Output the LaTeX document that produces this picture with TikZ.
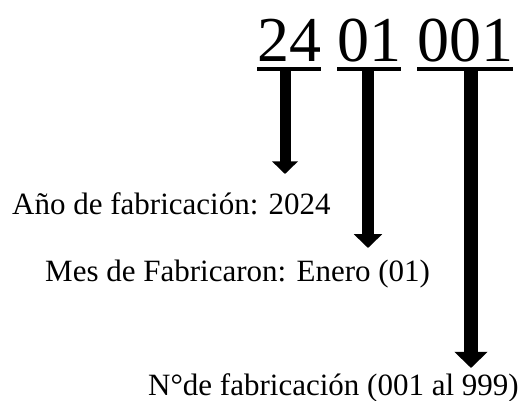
\documentclass[tikz,border=0pt]{standalone}
\usepackage{fontspec}
\setmainfont{Liberation Serif}
\usetikzlibrary{arrows.meta}
\begin{document}
\begin{tikzpicture}[x=1pt,y=-1pt,
  big/.style={inner sep=0pt,anchor=base west,font=\fontsize{64}{64}\selectfont},
  lbl/.style={inner sep=0pt,anchor=base west,font=\fontsize{31}{33}\selectfont},
  uline/.style={line width=4pt},
  bigarrow/.style={line width=#1, -{Triangle[width=2.3*#1,length=1.15*#1]}}
]
\useasboundingbox (0,0) rectangle (532,401);
\node[big] (a) at (257,62) {24};
\node[big] (b) at (337,62) {01};
\node[big] (c) at (417,62) {001};
\draw[uline] ([yshift=-7pt]a.base west) -- ([yshift=-7pt]a.base east);
\draw[uline] ([yshift=-7pt]b.base west) -- ([yshift=-7pt]b.base east);
\draw[uline] ([yshift=-7pt]c.base west) -- ([yshift=-7pt]c.base east);
\node[lbl] (l1) at (12,214) {Año de fabricación: 2024};
\node[lbl] (l2) at (45,281) {Mes de Fabricaron: Enero (01)};
\node[lbl] (l3) at (148,395) {N°de fabricación (001 al 999)};
\coordinate (s1) at (285,71); \coordinate (t1) at (285,174);
\coordinate (s2) at (368,71); \coordinate (t2) at (368,248);
\coordinate (s3) at (471,71); \coordinate (t3) at (471,368);
\draw[bigarrow=11pt] (s1) -- (t1);
\draw[bigarrow=12pt] (s2) -- (t2);
\draw[bigarrow=14pt] (s3) -- (t3);
\end{tikzpicture}
\end{document}
